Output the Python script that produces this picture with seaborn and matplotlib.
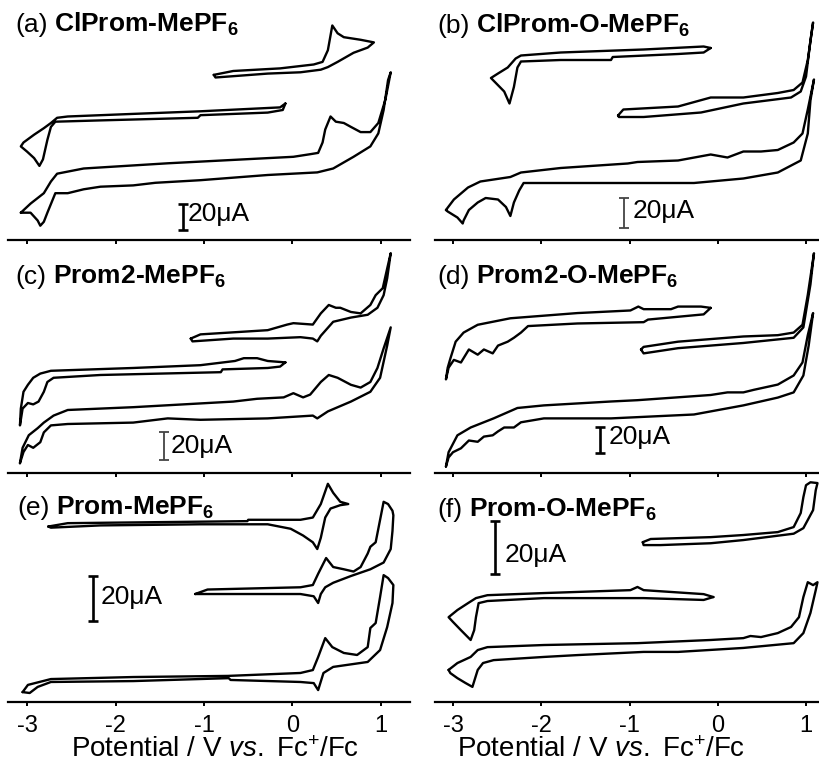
import matplotlib
matplotlib.use("Agg")
import matplotlib.pyplot as plt
import numpy as np
import pandas as pd
import seaborn as sns

# ---------------- data: potential (V vs Fc+/Fc) and current (uA, offset) ----------------
a1_E = [-0.89,-0.67,-0.14,0.24,0.34,0.40,0.45,0.51,0.58,0.77,0.92,0.85,0.69,0.51,0.40,0.32,0.09,-0.28,-0.67,-0.87,-0.89]
a1_I = [127,130,132,135,137,146,165,159,156,154,152,148,144,137,133,131,129,128,126,125,127]
a2_E = [-0.08,-0.14,-1.04,-1.80,-2.54,-2.66,-2.73,-2.81,-2.92,-3.04,-3.07,-3.00,-2.92,-2.86,-2.82,-2.77,-2.73,-2.68,-2.17,-1.07,-1.04,-0.28,-0.11,-0.08]
a2_I = [105,102,99,97,95,94,90,86,81,75,72,68,63,57,62,77,87,91,92,94,96,98,100,105]
a3_E = [-3.07,-2.96,-2.81,-2.73,-2.66,-2.36,-1.41,0.01,0.20,0.29,0.34,0.37,0.43,0.49,0.58,0.66,0.77,0.88,0.97,1.05,1.11,1.08,1.03,0.97,0.88,0.69,0.46,0.28,-0.28,-1.04,-1.55,-1.80,-2.17,-2.36,-2.54,-2.68,-2.71,-2.77,-2.81,-2.85,-2.88,-2.96,-3.07]
a3_I = [21,28,36,45,51,55,59,64,66,67,75,85,95,91,90,87,83,83,90,108,129,123,100,82,72,64,55,52,50,46,44,42,41,39,36,36,31,21,14,11,15,21,21]

b1_E = [-0.08,-0.16,-0.84,-1.78,-2.23,-2.29,-2.38,-2.49,-2.57,-2.52,-2.42,-2.36,-2.31,-2.27,-2.23,-1.78,-1.21,-1.19,-0.45,-0.16,-0.08]
b1_I = [128,129,127,125,123,121,115,111,108,105,99,91,102,115,119,120,120,122,124,125,128]
b2_E = [-1.13,-1.07,-0.45,-0.08,0.29,0.68,0.86,0.96,1.02,1.08,1.05,1.00,0.94,0.83,0.29,-0.19,-0.84,-1.12,-1.13]
b2_I = [83,87,89,95,95,98,100,105,120,145,133,109,99,95,91,85,82,82,83]
b3_E = [-3.08,-2.99,-2.83,-2.69,-2.35,-2.23,-1.78,-1.02,-0.91,-0.45,-0.08,0.11,0.29,0.49,0.68,0.86,0.96,1.02,1.09,1.05,1.02,0.94,0.68,0.29,-0.27,-1.21,-2.20,-2.25,-2.31,-2.35,-2.40,-2.49,-2.63,-2.72,-2.82,-2.88,-2.89,-2.95,-3.06,-3.08]
b3_I = [20,27,35,39,42,45,48,51,52,53,57,55,59,59,60,65,71,87,107,93,71,53,45,41,38,38,38,33,25,16,22,27,28,25,20,13,11,15,19,20]

c1_E = [-1.15,-1.04,-0.28,-0.06,0.01,0.23,0.32,0.41,0.49,0.54,0.66,0.77,0.88,0.94,1.02,1.07,1.11,1.07,1.03,0.96,0.85,0.66,0.46,0.32,0.28,0.23,0.09,-0.28,-0.67,-1.13,-1.15]
c1_I = [96,99,102,106,107,106,114,120,118,118,115,114,120,127,132,146,157,139,127,118,113,111,108,98,94,96,97,96,96,94,96]
c2_E = [-0.08,-0.28,-0.40,-0.55,-0.65,-1.04,-1.80,-2.73,-2.85,-2.93,-2.99,-3.04,-3.07,-3.08,-3.05,-2.99,-2.93,-2.87,-2.81,-2.77,-2.70,-2.17,-0.81,-0.79,-0.28,-0.14,-0.08]
c2_I = [79,80,82,82,80,77,75,73,71,68,63,58,46,34,46,50,49,51,58,65,68,70,72,74,75,76,79]
c3_E = [-3.08,-3.05,-2.98,-2.88,-2.81,-2.70,-2.54,-1.80,-0.67,-0.40,-0.10,0.01,0.12,0.20,0.32,0.41,0.51,0.66,0.77,0.88,0.96,1.03,1.11,1.07,0.99,0.88,0.66,0.40,0.28,0.23,-0.28,-1.04,-1.41,-1.80,-2.54,-2.73,-2.81,-2.85,-2.93,-2.99,-3.04,-3.08]
c3_I = [7,18,27,32,36,41,45,47,51,53,54,57,54,56,65,70,68,63,61,65,75,89,104,91,68,58,51,44,39,41,39,38,39,36,35,34,29,22,18,20,15,7]

d1_E = [-0.08,-0.19,-0.45,-0.53,-0.84,-0.90,-0.99,-1.59,-2.35,-2.72,-2.88,-2.97,-3.03,-3.06,-3.08,-3.05,-2.99,-2.91,-2.82,-2.72,-2.65,-2.55,-2.49,-2.38,-2.31,-2.23,-2.15,-1.59,-0.84,-0.79,-0.16,-0.08]
d1_I = [127,128,128,126,126,128,125,123,119,114,108,101,88,81,72,81,87,85,95,91,95,92,98,101,104,108,113,115,116,118,122,127]
d2_E = [-0.87,-0.84,-0.45,0.29,0.68,0.86,0.96,1.02,1.09,1.05,0.97,0.86,0.29,-0.45,-0.84,-0.87]
d2_I = [95,97,101,105,106,108,114,137,169,145,112,104,100,96,92,95]
d3_E = [-3.08,-3.05,-2.95,-2.80,-2.54,-2.27,-1.97,-1.21,-0.91,-0.08,0.11,0.29,0.41,0.68,0.86,0.96,1.02,1.08,1.03,0.97,0.86,0.68,0.29,-0.27,-1.21,-1.97,-2.23,-2.31,-2.42,-2.49,-2.55,-2.65,-2.72,-2.82,-2.91,-3.00,-3.05,-3.08]
d3_I = [5,16,29,35,42,50,52,55,56,60,62,62,64,68,75,85,106,123,98,75,62,58,52,45,42,42,39,35,35,32,29,28,24,25,19,16,12,5]

e1_E = [-2.76,-2.54,-1.41,-0.51,-0.50,0.09,0.23,0.32,0.40,0.46,0.54,0.63,0.54,0.43,0.37,0.32,0.28,0.23,0.12,-0.02,-0.28,-1.04,-2.17,-2.73,-2.76]
e1_I = [78,79.5,80,80.4,81,81,82,88,97,93,89,88,87.5,86,82,73,68,71,74,77,79,79,78.5,77.5,78]
e2_E = [-1.10,-0.96,0.09,0.23,0.29,0.38,0.46,0.58,0.69,0.77,0.85,0.88,0.94,0.99,1.03,1.08,1.13,1.14,1.13,1.11,1.03,0.88,0.66,0.46,0.37,0.32,0.29,0.24,0.09,-0.67,-1.07,-1.10]
e2_I = [48,50,51,52,57,64,60,59,58,60,66,69,71,81,89,88,85,83,76,68,62,59,56,53,51,48,44,47,48,48,48,48]
e3_E = [-3.05,-2.99,-2.73,-1.80,-0.73,0.09,0.23,0.29,0.37,0.45,0.58,0.73,0.85,0.88,0.94,0.99,1.03,1.08,1.14,1.13,1.07,0.99,0.85,0.46,0.35,0.29,0.24,0.09,-0.70,-0.72,-1.80,-2.73,-2.88,-2.97,-3.05]
e3_I = [4.4,7.6,10.2,11.1,11.6,12.9,14.2,20,28.4,24.4,21.8,20.9,24.4,32.9,35.1,46.7,56.4,55.1,52,44,33.3,23.1,17.8,15.6,12.9,5.3,8.4,8.9,9.8,10.6,9.3,8.9,6.7,4,4.4]

f1_E = [-0.85,-0.76,-0.08,0.29,0.68,0.86,0.94,0.97,1.00,1.05,1.13,1.11,1.08,0.97,0.86,0.29,-0.08,-0.65,-0.84,-0.85]
f1_I = [60.3,61.5,62.2,63,64.1,66,71.3,77.3,81.8,82.9,82.6,79.9,72.4,65.6,63.5,61.1,59.9,59.2,59.2,60.3]
f2_E = [-0.05,-0.16,-0.84,-0.91,-0.99,-1.97,-2.61,-2.74,-2.83,-2.95,-3.05,-3.00,-2.91,-2.80,-2.76,-2.74,-2.71,-2.61,-1.97,-0.84,-0.16,-0.05]
f2_I = [39.6,40.7,42.2,43.4,42.2,41.1,40.3,39.2,37.3,34.7,32,30.2,27.1,23.4,27.1,32,37.3,38.1,39.2,39.2,38.5,39.6]
f3_E = [-3.05,-2.95,-2.80,-2.72,-2.61,-1.97,-0.91,-0.08,0.29,0.37,0.49,0.68,0.83,0.92,0.97,1.02,1.08,1.13,1.11,1.05,0.97,0.86,0.29,-0.45,-0.84,-1.59,-1.97,-2.54,-2.66,-2.72,-2.78,-2.86,-2.95,-3.03,-3.05]
f3_I = [12.1,14.7,17,19.6,20.7,21.5,22.2,23.4,24.1,24.9,24.5,26,28.3,32,39.6,45.2,44.1,45.2,42.2,33.6,26,22.2,20.4,18.9,18.9,17.7,17,15.8,14.7,12.1,5.7,7.2,9,10.9,12.1]

panel_tags = ["(a)", "(b)", "(c)", "(d)", "(e)", "(f)"]
compounds = ["ClProm-MePF", "ClProm-O-MePF", "Prom2-MePF", "Prom2-O-MePF", "Prom-MePF", "Prom-O-MePF"]
scale_bar_uA = 20
x_ticks = [-3, -2, -1, 0, 1]
x_label = r"Potential / V $\mathit{vs.}$ Fc$^{+}$/Fc"

# ---------------- style ----------------
sns.set_theme(style="white")
plt.rcParams["font.family"] = ["Liberation Sans", "DejaVu Sans"]
plt.rcParams["mathtext.fontset"] = "custom"
plt.rcParams["mathtext.rm"] = "Liberation Sans"
plt.rcParams["mathtext.it"] = "Liberation Sans:italic"
plt.rcParams["mathtext.bf"] = "Liberation Sans:bold"
plt.rcParams["axes.unicode_minus"] = False

W, H = 819, 773
fig = plt.figure(figsize=(W / 100, H / 100), dpi=100)
fig.patch.set_facecolor("white")

cols = [dict(x0=8, x1=410, xlim=(-3.215, 1.328)),
        dict(x0=435, x1=819, xlim=(-3.204, 1.147))]
rows = [(0, 240), (240, 473), (473, 702)]

panels = [
    dict(col=0, row=0, ymax=184.6, loops=[(a1_E, a1_I), (a2_E, a2_I), (a3_E, a3_I)],
         bar=(-1.24, 7.7), bar_lw=1.9, bar_c="black", txt=(-1.19, 20.0), title=(15, 32)),
    dict(col=1, row=0, ymax=160.0, loops=[(b1_E, b1_I), (b2_E, b2_I), (b3_E, b3_I)],
         bar=(-1.06, 8.0), bar_lw=1.3, bar_c="#444444", txt=(-0.96, 19.3), title=(437, 33)),
    dict(col=0, row=1, ymax=166.4, loops=[(c1_E, c1_I), (c2_E, c2_I), (c3_E, c3_I)],
         bar=(-1.45, 9.3), bar_lw=1.3, bar_c="#444444", txt=(-1.38, 19.3), title=(15, 284)),
    dict(col=1, row=1, ymax=179.2, loops=[(d1_E, d1_I), (d2_E, d2_I), (d3_E, d3_I)],
         bar=(-1.33, 15.4), bar_lw=1.9, bar_c="black", txt=(-1.24, 27.7), title=(437, 284)),
    dict(col=0, row=2, ymax=101.8, loops=[(e1_E, e1_I), (e2_E, e2_I), (e3_E, e3_I)],
         bar=(-2.25, 36.0), bar_lw=1.9, bar_c="black", txt=(-2.17, 46.7), title=(17, 515)),
    dict(col=1, row=2, ymax=86.4, loops=[(f1_E, f1_I), (f2_E, f2_I), (f3_E, f3_I)],
         bar=(-2.52, 48.3), bar_lw=1.9, bar_c="black", txt=(-2.41, 55.4), title=(437, 517)),
]

tag_texts = []
for i, p in enumerate(panels):
    c = cols[p["col"]]
    ytop, ybot = rows[p["row"]]
    ax = fig.add_axes([c["x0"] / W, 1 - ybot / H, (c["x1"] - c["x0"]) / W, (ybot - ytop) / H])
    ax.set_facecolor("none")
    frames = []
    for k, (E, I) in enumerate(p["loops"]):
        frames.append(pd.DataFrame({"E": E, "I": I, "loop": k}))
    df = pd.concat(frames, ignore_index=True)
    sns.lineplot(data=df, x="E", y="I", units="loop", estimator=None, sort=False,
                 color="black", linewidth=1.7, ax=ax, legend=False)
    for ln in ax.get_lines():
        ln.set_solid_joinstyle("round")
        ln.set_solid_capstyle("round")
    ax.set_xlim(*c["xlim"])
    ax.set_ylim(0, p["ymax"])
    ax.set_xlabel("")
    ax.set_ylabel("")
    ax.set_yticks([])
    ax.set_xticks(x_ticks)
    for s in ["left", "right", "top"]:
        ax.spines[s].set_visible(False)
    ax.spines["bottom"].set_visible(True)
    ax.spines["bottom"].set_color("black")
    ax.spines["bottom"].set_linewidth(1.6)
    ax.tick_params(axis="x", direction="out", length=3.2, width=1.4, color="black",
                   bottom=True, labelbottom=(p["row"] == 2), labelsize=17, pad=6,
                   labelcolor="black")
    # scale bar
    bx, by = p["bar"]
    ax.plot([bx, bx], [by, by + scale_bar_uA], color=p["bar_c"], lw=p["bar_lw"],
            marker="_", markersize=7, markeredgewidth=p["bar_lw"], solid_capstyle="butt")
    tx, ty = p["txt"]
    ax.text(tx, ty, f"{scale_bar_uA}\u03bcA", fontsize=19, va="center", ha="left", color="black")
    # panel tag
    t = fig.text(p["title"][0] / W, 1 - p["title"][1] / H, panel_tags[i], fontsize=19,
                 va="baseline", ha="left", color="black")
    tag_texts.append((t, p["title"][1], compounds[i]))

# x labels
fig.text(215 / W, 1 - 757 / H, x_label, fontsize=20, ha="center", va="baseline", color="black")
fig.text(601 / W, 1 - 757 / H, x_label, fontsize=20, ha="center", va="baseline", color="black")

# bold compound names placed after the regular tags
fig.canvas.draw()
r = fig.canvas.get_renderer()
for t, base, name in tag_texts:
    bb = t.get_window_extent(r)
    fig.text((bb.x1 + 7) / W, 1 - base / H, name + r"$_{\mathbf{6}}$", fontsize=19,
             fontweight="bold", va="baseline", ha="left", color="black")

fig.savefig("out.png", dpi=100, facecolor="white")
